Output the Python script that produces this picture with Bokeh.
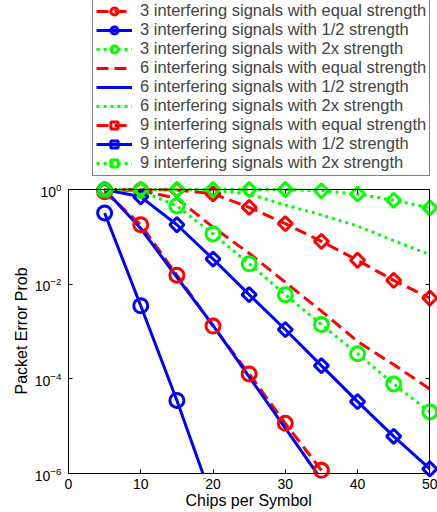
import numpy as np
from bokeh.plotting import figure
from bokeh.models import (Range1d, LinearAxis, LogAxis, FixedTicker, Legend,
                          LegendItem, LogTickFormatter, Title)
from bokeh.core.properties import value
from bokeh.embed import file_html
from bokeh.resources import INLINE

# ---------------- data ----------------
chips = [5, 10, 15, 20, 25, 30, 35, 40, 45, 50]

eq3 = [0.9, 0.18, 0.0155, 0.0013, 1.27e-4, 1.15e-5, 1.17e-6]
half3 = [0.32, 0.0035, 3.5e-5, 2.5e-7]
dbl3 = [0.98, 0.95, 0.45, 0.115, 0.027, 0.006, 0.0014, 3.4e-4, 7.8e-5, 2.0e-5]

eq6 = [1.0, 0.95, 0.65, 0.16, 0.045, 0.011, 0.0027, 6.2e-4, 2.0e-4, 6.1e-5]
half6 = [1.0, 0.15, 0.014, 0.00135, 1.1e-4, 9.1e-6, 7.4e-7]
dbl6 = [1.0, 1.0, 1.0, 0.97, 0.8, 0.47, 0.29, 0.17, 0.083, 0.042]

eq9 = [1.0, 1.0, 0.98, 0.81, 0.42, 0.19, 0.08, 0.032, 0.012, 0.0051]
half9 = [1.0, 0.7, 0.18, 0.034, 0.006, 0.0011, 1.9e-4, 3.3e-5, 6.1e-6, 1.25e-6]
dbl9 = [1.0, 1.0, 1.0, 1.0, 1.0, 1.0, 0.94, 0.8, 0.59, 0.41]

labels = [
    "3 interfering signals with equal strength",
    "3 interfering signals with 1/2 strength",
    "3 interfering signals with 2x strength",
    "6 interfering signals with equal strength",
    "6 interfering signals with 1/2 strength",
    "6 interfering signals with 2x strength",
    "9 interfering signals with equal strength",
    "9 interfering signals with 1/2 strength",
    "9 interfering signals with 2x strength",
]
x_title = "Chips per Symbol"
y_title = "Packet Error Prob"
x_ticks = [0, 10, 20, 30, 40, 50]
y_ticks = [1e-6, 1e-4, 1e-2, 1.0]
X0, X1 = 0, 50
E0, E1 = -6, 0  # log10 limits

# ---------------- layout (figure px) ----------------
W, H = 437, 512
FR_L, FR_R, FR_T, FR_B = 68, 437, 0, 478
BOX_L, BOX_R, BOX_T, BOX_B = 68, 429.3, 189, 473
LEG_L, LEG_B = 92, 176
XT_START, YT_START = 185, 394
ppx = (BOX_R - BOX_L) / (X1 - X0)
ppy = (BOX_B - BOX_T) / (E1 - E0)
x_start = X0 - (BOX_L - FR_L) / ppx
x_end = X1 + (FR_R - BOX_R) / ppx
y_start = 10 ** (E0 - (FR_B - BOX_B) / ppy)
y_end = 10 ** (E1 + (BOX_T - FR_T) / ppy)

p = figure(width=W, height=H, frame_width=FR_R - FR_L, frame_height=FR_B - FR_T,
           x_range=Range1d(x_start, x_end), y_range=Range1d(y_start, y_end),
           y_axis_type="log", output_backend="svg", toolbar_location=None,
           min_border_left=FR_L, min_border_right=W - FR_R,
           min_border_top=FR_T, min_border_bottom=H - FR_B)
p.grid.visible = False
p.outline_line_color = None
p.background_fill_color = "white"
p.border_fill_color = "white"

FONT = "Liberation Sans"
xt = FixedTicker(ticks=x_ticks, minor_ticks=[])
yt = FixedTicker(ticks=y_ticks, minor_ticks=[])


def style(ax):
    ax.major_tick_in = 4
    ax.major_tick_out = 0
    ax.minor_tick_in = 0
    ax.minor_tick_out = 0
    ax.axis_line_color = "black"
    ax.axis_line_width = 1
    ax.major_tick_line_color = "black"
    ax.major_tick_line_width = 1
    ax.major_label_text_font = FONT
    ax.major_label_text_font_size = "14px"
    ax.major_label_text_color = "black"


# bottom: tick labels only (line + ticks drawn by a fixed-location axis)
xb = p.xaxis[0]
style(xb)
xb.ticker = xt
xb.bounds = (X0, X1)
xb.axis_line_color = None
xb.major_tick_line_color = None
xb.major_label_standoff = 0

xline = LinearAxis(ticker=xt, fixed_location=10 ** E0, bounds=(X0, X1))
style(xline)
xline.major_label_text_color = None
p.add_layout(xline, "below")

yl = p.yaxis[0]
style(yl)
yl.ticker = yt
yl.formatter = LogTickFormatter()
yl.bounds = (10 ** E0, 10 ** E1)
yl.major_label_standoff = 7

xa = LinearAxis(ticker=xt, fixed_location=10 ** E1, bounds=(X0, X1))
style(xa)
xa.major_label_text_color = None
p.add_layout(xa, "above")

yr = LogAxis(ticker=yt, fixed_location=X1, bounds=(10 ** E0, 10 ** E1))
style(yr)
yr.major_label_text_color = None
p.add_layout(yr, "right")

# axis titles
p.add_layout(Title(text=x_title, align="left", offset=XT_START - FR_L,
                   vertical_align="top", standoff=0, text_font=FONT,
                   text_font_size="16px", text_font_style="normal",
                   text_color="black"), "below")
p.add_layout(Title(text=y_title, align="left", offset=FR_B - YT_START,
                   vertical_align="top", standoff=0, text_font=FONT,
                   text_font_size="16px", text_font_style="normal",
                   text_color="black"), "left")

# ---------------- series ----------------
RED, BLUE, GREEN = "#ff0000", "#0000ff", "#00ff00"
DASH, DOT, SOLID = "12 6", "3 4", "solid"
series = [
    (labels[0], eq3, RED, DASH, "circle"),
    (labels[1], half3, BLUE, SOLID, "circle"),
    (labels[2], dbl3, GREEN, DOT, "circle"),
    (labels[3], eq6, RED, DASH, None),
    (labels[4], half6, BLUE, SOLID, None),
    (labels[5], dbl6, GREEN, DOT, None),
    (labels[6], eq9, RED, DASH, "diamond"),
    (labels[7], half9, BLUE, SOLID, "diamond"),
    (labels[8], dbl9, GREEN, DOT, "diamond"),
]

line_rs = []
for lab, ys, col, dash, mk in series:
    xs = chips[:len(ys)]
    r = p.line(xs, ys, line_color=col, line_width=3, line_dash=dash)
    line_rs.append(r)

# white mask below the lower axis limit so lines stop at the axis
p.quad(left=x_start, right=x_end, bottom=y_start, top=10 ** E0,
       fill_color="white", line_color=None)

items = []
for (lab, ys, col, dash, mk), lr in zip(series, line_rs):
    xs = chips[:len(ys)]
    rs = [lr]
    if mk == "circle":
        m = p.scatter(xs, ys, marker="circle", size=14, line_color=col,
                      line_width=3, fill_color=None)
        rs.append(m)
    elif mk == "diamond":
        m = p.scatter(xs, ys, marker="square", angle=np.pi / 4, size=10,
                      line_color=col, line_width=3, fill_color=None)
        rs.append(m)
    items.append(LegendItem(label=value(lab), renderers=rs))

legend = Legend(items=items, location=(LEG_L - FR_L, FR_B - LEG_B),
                label_text_font=FONT, label_text_font_size="16.5px",
                glyph_width=36, glyph_height=18, label_height=18,
                label_standoff=8, spacing=0, padding=3, margin=0,
                border_line_color="black", border_line_width=1,
                background_fill_color="white", background_fill_alpha=1.0)
p.add_layout(legend, "center")

open("out.html", "w").write(file_html(p, INLINE))
